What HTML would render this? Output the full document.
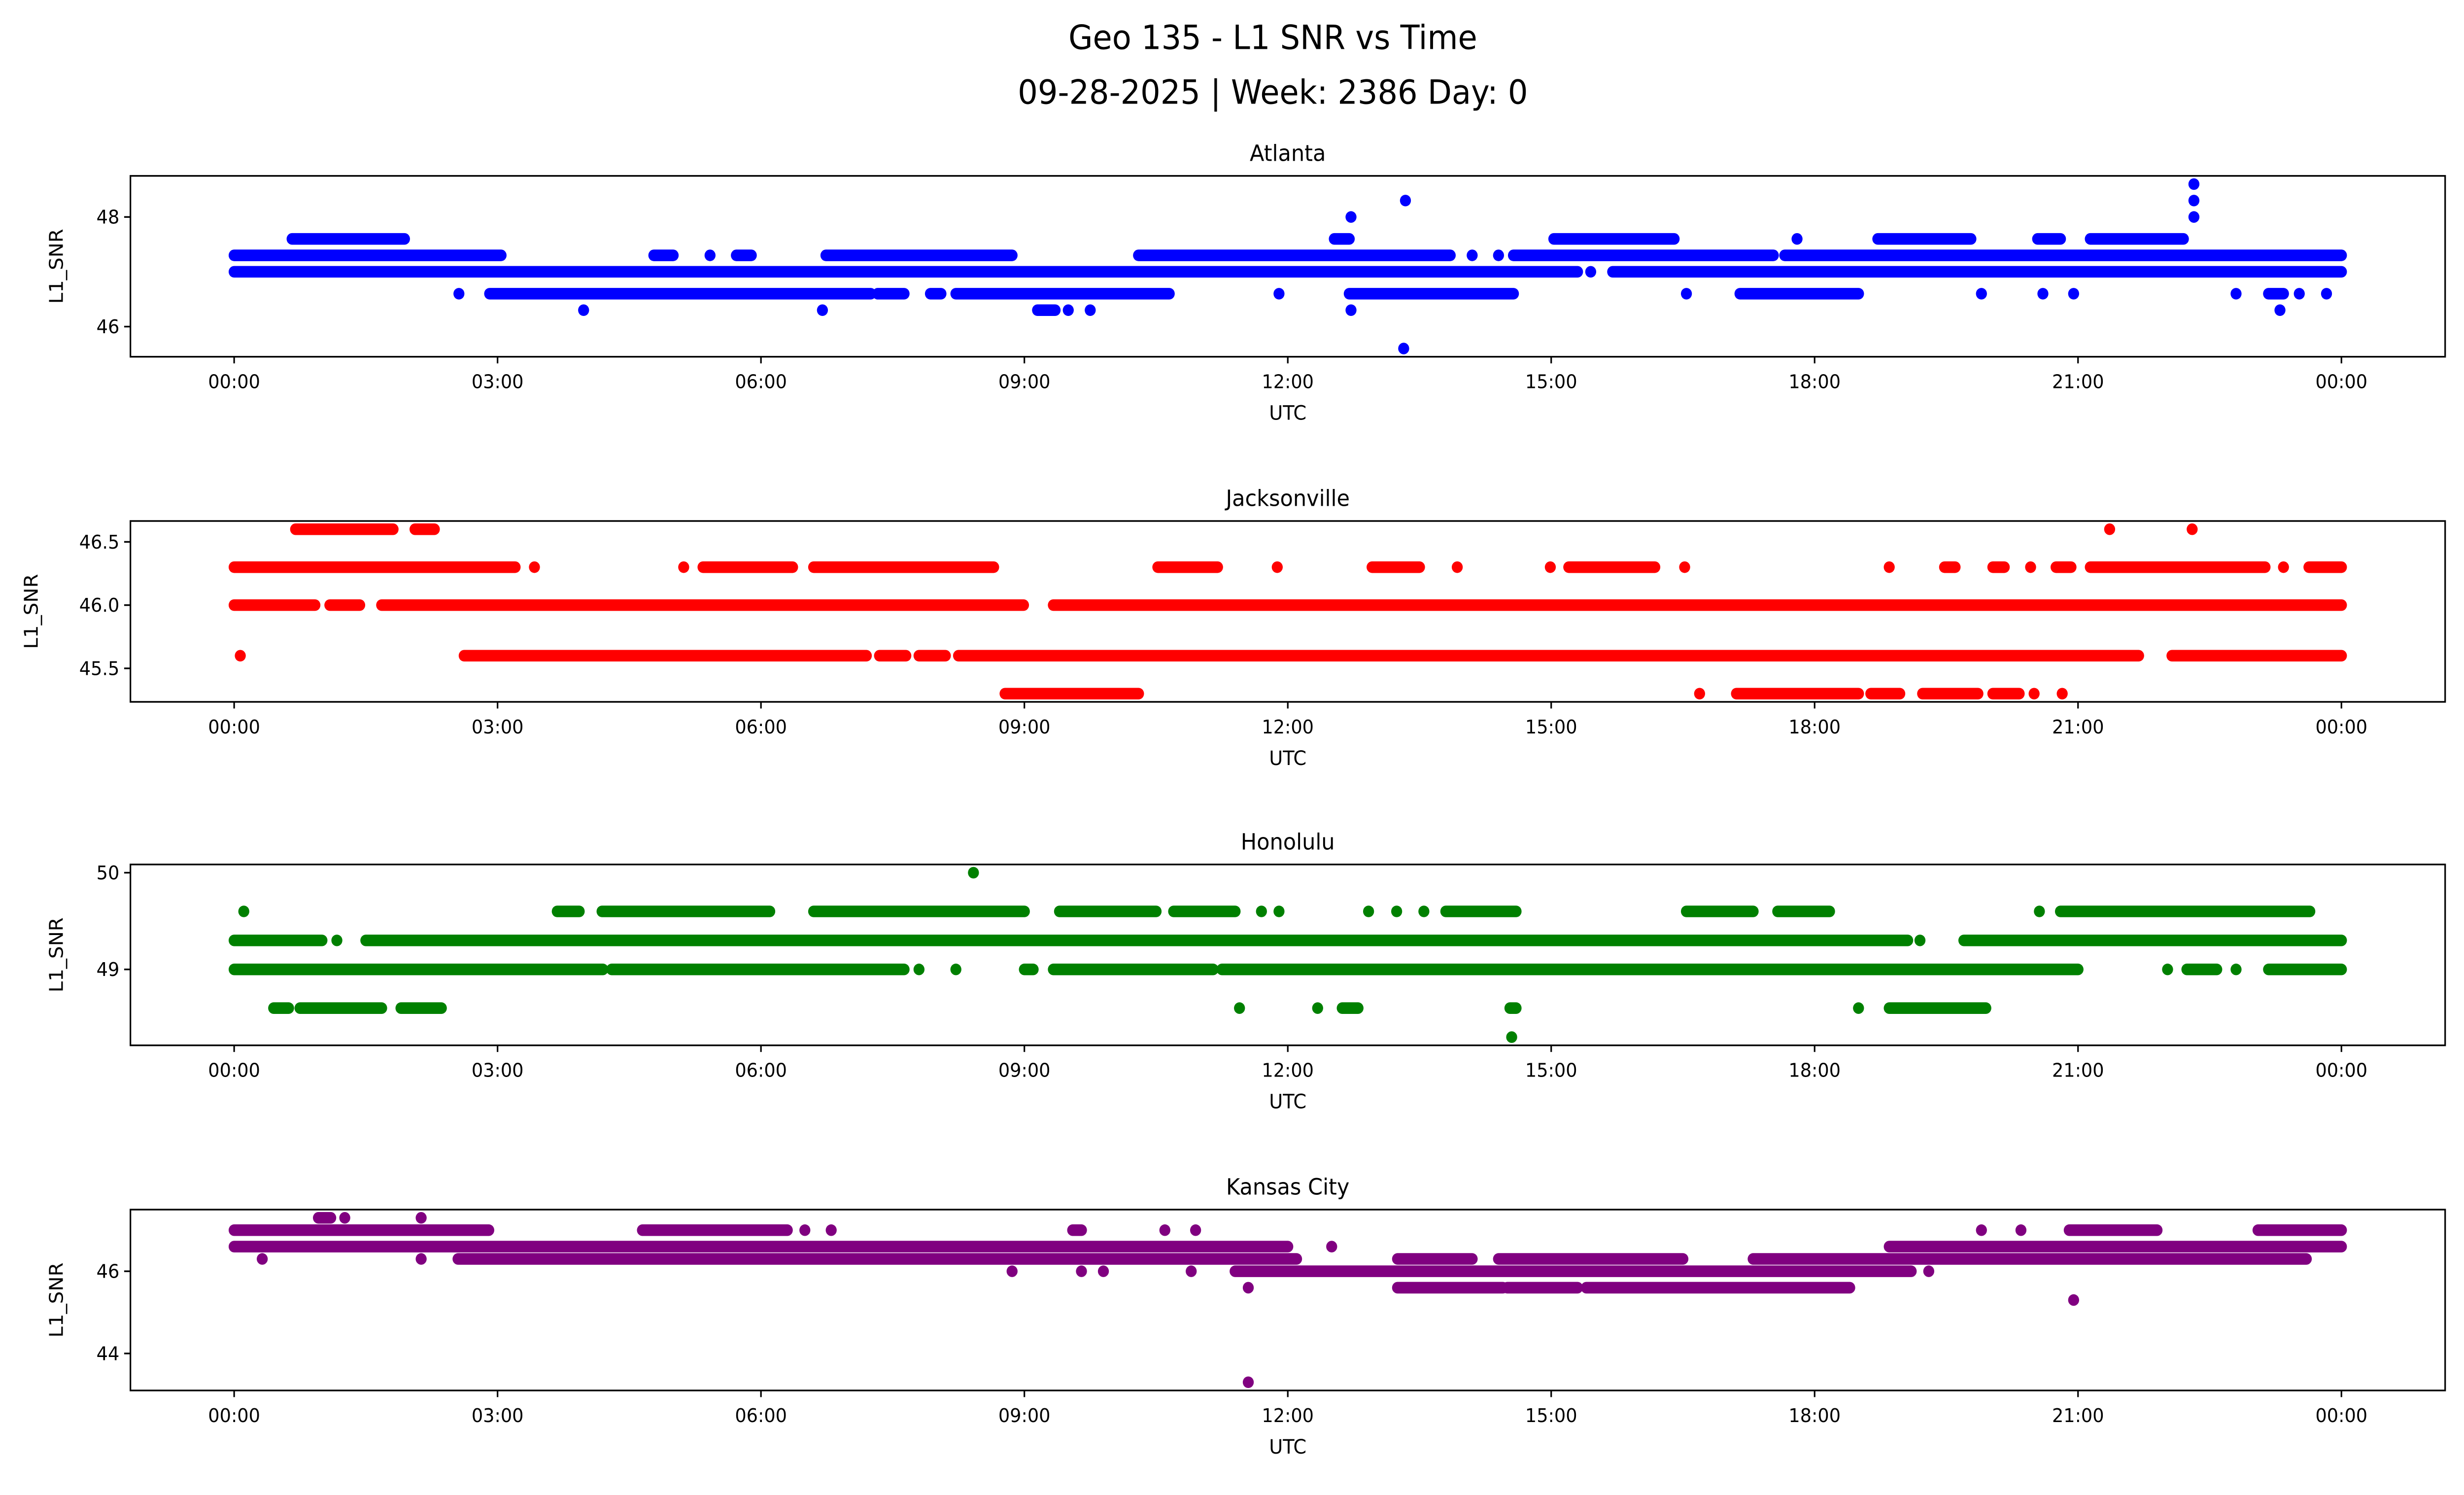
<!DOCTYPE html>
<html><head><meta charset="utf-8"><style>
html,body{margin:0;padding:0;background:#fff;overflow:hidden;width:100%;height:100%;}
svg{display:block;width:100vw;height:100vh;font-family:"DejaVu Sans","Liberation Sans",sans-serif;}
</style></head><body>
<svg id="fig" xmlns="http://www.w3.org/2000/svg" viewBox="0 0 1568 901" preserveAspectRatio="none">
<rect width="1568" height="901" fill="#fff"/>
<text x="810" y="24" font-size="20" text-anchor="middle" dominant-baseline="middle">Geo 135 - L1 SNR vs Time</text>
<text x="810" y="57" font-size="20" text-anchor="middle" dominant-baseline="middle">09-28-2025 | Week: 2386 Day: 0</text>
</svg>
<script>
// runs: [startHour, endHour, snr]
const atlantaRuns=[
[0.66,1.94,47.6],[12.53,12.7,47.6],[15.03,16.4,47.6],[17.8,17.8,47.6],[18.72,19.78,47.6],[20.54,20.8,47.6],[21.14,22.2,47.6],
[0,3.04,47.3],[4.78,5.0,47.3],[5.42,5.42,47.3],[5.72,5.89,47.3],[6.74,8.86,47.3],[10.3,13.85,47.3],[14.1,14.1,47.3],[14.4,14.4,47.3],[14.57,17.53,47.3],[17.66,24,47.3],
[0,15.3,47.0],[15.45,15.45,47.0],[15.7,24,47.0],
[2.56,2.56,46.6],[2.91,7.25,46.6],[7.33,7.63,46.6],[7.93,8.05,46.6],[8.22,10.65,46.6],[11.9,11.9,46.6],[12.7,14.57,46.6],[16.54,16.54,46.6],[17.15,18.5,46.6],[19.9,19.9,46.6],[20.6,20.6,46.6],[20.95,20.95,46.6],[22.8,22.8,46.6],[23.17,23.34,46.6],[23.52,23.52,46.6],[23.83,23.83,46.6],
[3.98,3.98,46.3],[6.7,6.7,46.3],[9.15,9.35,46.3],[9.5,9.5,46.3],[9.75,9.75,46.3],[12.72,12.72,46.3],[23.3,23.3,46.3],
[12.72,12.72,48.0],[22.32,22.32,48.0],[13.34,13.34,48.3],[22.32,22.32,48.3],[22.32,22.32,48.6],[13.32,13.32,45.6]];
const jaxRuns=[
[0.7,1.81,46.6],[2.06,2.28,46.6],[21.36,21.36,46.6],[22.3,22.3,46.6],
[0,3.2,46.3],[3.42,3.42,46.3],[5.12,5.12,46.3],[5.34,6.36,46.3],[6.6,8.65,46.3],[10.52,11.2,46.3],[11.88,11.88,46.3],[12.96,13.5,46.3],[13.93,13.93,46.3],[14.99,14.99,46.3],[15.2,16.18,46.3],[16.52,16.52,46.3],[18.85,18.85,46.3],[19.48,19.6,46.3],[20.03,20.16,46.3],[20.46,20.46,46.3],[20.75,20.92,46.3],[21.14,23.13,46.3],[23.34,23.34,46.3],[23.63,24,46.3],
[0,0.92,46.0],[1.09,1.43,46.0],[1.68,8.99,46.0],[9.33,24,46.0],
[0.07,0.07,45.6],[2.62,7.2,45.6],[7.35,7.65,45.6],[7.8,8.1,45.6],[8.25,21.69,45.6],[22.07,24,45.6],
[8.78,10.3,45.3],[16.69,16.69,45.3],[17.11,18.5,45.3],[18.64,18.97,45.3],[19.23,19.86,45.3],[20.03,20.33,45.3],[20.5,20.5,45.3],[20.82,20.82,45.3]];
const honRuns=[[8.42,8.42,50.0],
[0.11,0.11,49.6],[3.68,3.93,49.6],[4.19,6.1,49.6],[6.6,9.0,49.6],[9.4,10.5,49.6],[10.7,11.4,49.6],[11.7,11.7,49.6],[11.9,11.9,49.6],[12.92,12.92,49.6],[13.24,13.24,49.6],[13.55,13.55,49.6],[13.8,14.6,49.6],[16.54,17.3,49.6],[17.58,18.17,49.6],[20.56,20.56,49.6],[20.8,23.64,49.6],
[0,1.0,49.3],[1.17,1.17,49.3],[1.5,19.06,49.3],[19.2,19.2,49.3],[19.7,24,49.3],
[0,4.2,49.0],[4.3,7.63,49.0],[7.8,7.8,49.0],[8.22,8.22,49.0],[9.0,9.1,49.0],[9.33,11.15,49.0],[11.25,21.0,49.0],[22.02,22.02,49.0],[22.24,22.58,49.0],[22.8,22.8,49.0],[23.17,24,49.0],
[0.45,0.62,48.6],[0.75,1.68,48.6],[1.9,2.36,48.6],[11.45,11.45,48.6],[12.34,12.34,48.6],[12.62,12.8,48.6],[14.53,14.6,48.6],[18.5,18.5,48.6],[18.85,19.95,48.6],
[14.55,14.55,48.3]];
const kcRuns=[[0.96,1.1,47.3],[1.26,1.26,47.3],[2.13,2.13,47.3],
[0,2.9,47.0],[4.65,6.3,47.0],[6.5,6.5,47.0],[6.8,6.8,47.0],[9.55,9.65,47.0],[10.6,10.6,47.0],[10.95,10.95,47.0],[19.9,19.9,47.0],[20.35,20.35,47.0],[20.9,21.9,47.0],[23.05,24,47.0],
[0,12.0,46.6],[12.5,12.5,46.6],[18.85,24,46.6],
[0.32,0.32,46.3],[2.13,2.13,46.3],[2.55,12.1,46.3],[13.25,14.1,46.3],[14.4,16.5,46.3],[17.3,23.6,46.3],
[8.86,8.86,46.0],[9.65,9.65,46.0],[9.9,9.9,46.0],[10.9,10.9,46.0],[11.4,19.1,46.0],[19.3,19.3,46.0],
[11.55,11.55,45.6],[13.25,14.45,45.6],[14.5,15.3,45.6],[15.4,18.4,45.6],
[20.95,20.95,45.3],[11.55,11.55,43.3]];

const xTickHours=[0,3,6,9,12,15,18,21,24];
const xTickLabels=["00:00","03:00","06:00","09:00","12:00","15:00","18:00","21:00","00:00"];
const atlantaYTicks=[46,48];
const jaxYTicks=[45.5,46.0,46.5];
const honYTicks=[49,50];
const kcYTicks=[44,46];

const NS="http://www.w3.org/2000/svg";
const svg=document.getElementById('fig');
function mk(tag,attrs,parent){const e=document.createElementNS(NS,tag);for(const k in attrs)e.setAttribute(k,attrs[k]);(parent||svg).appendChild(e);return e;}
const AX_L=83,AX_R=1556,AX_H=109;
const xScale=h=>149+h*(1490-149)/24;

const panels=[
 {name:'atlanta',title:'Atlanta',top:106,runs:atlantaRuns,ticks:atlantaYTicks,ymin:45.45,ymax:48.75,color:'#0000ff',fmt:v=>String(v)},
 {name:'jacksonville',title:'Jacksonville',top:314,runs:jaxRuns,ticks:jaxYTicks,ymin:45.235,ymax:46.665,color:'#ff0000',fmt:v=>v.toFixed(1)},
 {name:'honolulu',title:'Honolulu',top:521,runs:honRuns,ticks:honYTicks,ymin:48.215,ymax:50.085,color:'#008000',fmt:v=>String(v)},
 {name:'kansas-city',title:'Kansas City',top:729,runs:kcRuns,ticks:kcYTicks,ymin:43.1,ymax:47.5,color:'#800080',fmt:v=>String(v)}
];

panels.forEach(p=>{
 const g=mk('g',{});
 
 
 const bot=p.top+AX_H;
 const yScale=v=>bot-(v-p.ymin)/(p.ymax-p.ymin)*AX_H;
 const t=mk('text',{x:(AX_L+AX_R)/2,y:p.top-9,'font-size':13.5,'text-anchor':'middle'},g);
 t.textContent=p.title;
 
 
 const pts=mk('g',{},g);
 
 
 p.runs.forEach(r=>{
  const l=mk('line',{x1:xScale(r[0]),x2:xScale(r[1]),y1:yScale(r[2]),y2:yScale(r[2]),stroke:p.color,'stroke-width':7,'stroke-linecap':'round'},pts);
  
  
 });
 const box=mk('rect',{x:AX_L,y:p.top,width:AX_R-AX_L,height:AX_H,fill:'none',stroke:'#000','stroke-width':1},g);
 
 
 xTickHours.forEach((h,i)=>{
  const x=xScale(h);
  mk('line',{x1:x,x2:x,y1:bot,y2:bot+4,stroke:'#000','stroke-width':1},g);
  const tl=mk('text',{x:x,y:bot+19,'font-size':11.5,'text-anchor':'middle'},g);
  tl.textContent=xTickLabels[i];
  
  
 });
 p.ticks.forEach(v=>{
  const y=yScale(v);
  mk('line',{x1:AX_L-4,x2:AX_L,y1:y,y2:y,stroke:'#000','stroke-width':1},g);
  const tl=mk('text',{x:AX_L-7,y:y+4,'font-size':11.5,'text-anchor':'end'},g);
  tl.textContent=p.fmt(v);
  
  
 });
 const xl=mk('text',{x:(AX_L+AX_R)/2,y:bot+38,'font-size':12,'text-anchor':'middle'},g);
 xl.textContent='UTC';
 
 
 const yl=mk('text',{x:0,y:0,'font-size':12,'text-anchor':'middle',transform:'translate('+(p.name==='jacksonville'?24:40)+','+(p.top+AX_H/2)+') rotate(-90)'},g);
 yl.textContent='L1_SNR';
 
 
});
</script>
</body></html>
